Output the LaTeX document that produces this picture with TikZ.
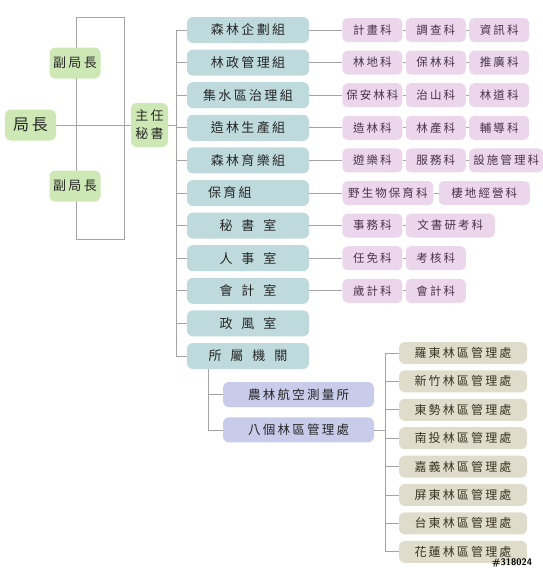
\documentclass[tikz,border=0pt]{standalone}
\usepackage{fontspec}
\newfontfamily\cjk[LetterSpace=18]{Noto Sans CJK TC}
\usepackage{xcolor}
\usetikzlibrary{positioning}
\definecolor{headgreen}{HTML}{CDE8B4}
\definecolor{unitteal}{HTML}{BFDADD}
\definecolor{sectpink}{HTML}{ECD6EC}
\definecolor{agencyblue}{HTML}{C9CBEA}
\definecolor{officetan}{HTML}{E0DCCB}
\definecolor{linegray}{HTML}{A4A4A4}
\definecolor{inkdark}{HTML}{262626}
\definecolor{inkplum}{HTML}{4A3348}
\definecolor{inkbrown}{HTML}{3A3322}

\begin{document}
\begin{tikzpicture}[x=1pt, y=-1pt,
  head/.style={rectangle, rounded corners=6pt, fill=headgreen,
               font=\cjk\fontsize{13}{18}\selectfont, text=inkdark,
               minimum width=51pt, minimum height=31pt,
               align=center, inner sep=2pt},
  unit/.style={rectangle, rounded corners=6pt, fill=unitteal,
               font=\cjk\fontsize{13}{15}\selectfont, text=inkdark,
               minimum width=122pt, minimum height=26pt, inner sep=2pt},
  sect/.style={rectangle, rounded corners=5pt, fill=sectpink,
               font=\cjk\fontsize{11.5}{13}\selectfont, text=inkplum,
               minimum width=60pt, minimum height=24pt, inner sep=1pt},
  agency/.style={rectangle, rounded corners=6pt, fill=agencyblue,
                 font=\cjk\fontsize{12.5}{14}\selectfont, text=inkdark,
                 minimum width=151pt, minimum height=25pt, inner sep=2pt},
  office/.style={rectangle, rounded corners=6pt, fill=officetan,
                 font=\cjk\fontsize{12}{14}\selectfont, text=inkbrown,
                 minimum width=128pt, minimum height=22pt, inner sep=1pt},
  conn/.style={draw=linegray, line width=0.8pt},
  node distance=6.2pt
]
\useasboundingbox (0,0) rectangle (543,568);

\coordinate (br1) at (76,17);
\coordinate (br2) at (124,239);
\draw[conn] (br1) rectangle (br2);

\node[head, font=\cjk\fontsize{16}{18}\selectfont] (chief) at (30.5,125) {局\hspace{3pt}長};
\node[head] (dep1) at (75,63) {副局長};
\node[head] (dep2) at (75,186) {副局長};
\node[head, minimum width=37pt, minimum height=44pt] (sec) at (149.5,125) {主任\\秘書};

\node[unit] (t1) at (248,30) {森林企劃組};
\node[unit, below=of t1]  (t2)  {林政管理組};
\node[unit, below=of t2]  (t3)  {集水區治理組};
\node[unit, below=of t3]  (t4)  {造林生產組};
\node[unit, below=of t4]  (t5)  {森林育樂組};
\node[unit, below=of t5, text width=80pt, inner xsep=21pt, align=left] (t6) {保育組};
\node[unit, below=of t6]  (t7)  {秘\hspace{9pt}書\hspace{9pt}室};
\node[unit, below=of t7]  (t8)  {人\hspace{9pt}事\hspace{9pt}室};
\node[unit, below=of t8]  (t9)  {會\hspace{9pt}計\hspace{9pt}室};
\node[unit, below=of t9]  (t10) {政\hspace{9pt}風\hspace{9pt}室};
\node[unit, below=of t10] (t11) {所\hspace{9pt}屬\hspace{9pt}機\hspace{9pt}關};

\node[sect, right=33pt of t1] (p11) {計畫科};
\node[sect, right=3pt of p11] (p12) {調查科};
\node[sect, right=3pt of p12] (p13) {資訊科};
\node[sect, right=33pt of t2] (p21) {林地科};
\node[sect, right=3pt of p21] (p22) {保林科};
\node[sect, right=3pt of p22] (p23) {推廣科};
\node[sect, right=33pt of t3] (p31) {保安林科};
\node[sect, right=3pt of p31] (p32) {治山科};
\node[sect, right=3pt of p32] (p33) {林道科};
\node[sect, right=33pt of t4] (p41) {造林科};
\node[sect, right=3pt of p41] (p42) {林產科};
\node[sect, right=3pt of p42] (p43) {輔導科};
\node[sect, right=33pt of t5] (p51) {遊樂科};
\node[sect, right=3pt of p51] (p52) {服務科};
\node[sect, right=3pt of p52, minimum width=74pt] (p53) {設施管理科};
\node[sect, right=33pt of t6, minimum width=91pt] (p61) {野生物保育科};
\node[sect, right=5pt of p61, minimum width=91pt] (p62) {棲地經營科};
\node[sect, right=33pt of t7] (p71) {事務科};
\node[sect, right=3pt of p71, minimum width=89pt] (p72) {文書研考科};
\node[sect, right=33pt of t8] (p81) {任免科};
\node[sect, right=3pt of p81] (p82) {考核科};
\node[sect, right=33pt of t9] (p91) {歲計科};
\node[sect, right=3pt of p91] (p92) {會計科};

\node[agency] (a1) at (298.5,394.5) {農林航空測量所};
\node[agency, below=10pt of a1] (a2) {八個林區管理處};

\node[office] (f1) at (463,353) {羅東林區管理處};
\node[office, below=6pt of f1] (f2) {新竹林區管理處};
\node[office, below=6pt of f2] (f3) {東勢林區管理處};
\node[office, below=6pt of f3] (f4) {南投林區管理處};
\node[office, below=6pt of f4] (f5) {嘉義林區管理處};
\node[office, below=6pt of f5] (f6) {屏東林區管理處};
\node[office, below=6pt of f6] (f7) {台東林區管理處};
\node[office, below=6pt of f7] (f8) {花蓮林區管理處};

\node[font=\sffamily\bfseries\fontsize{9.5}{10}\selectfont, inner sep=0pt] (mark) at (512,563.5) {\#318024};

\coordinate (trunk) at (176,0);
\coordinate (sub) at (208,0);
\coordinate (ftrunk) at (385,0);

\draw[conn] (chief.east) -- (sec.west);
\draw[conn] (sec.east) -- (sec.east -| trunk);
\draw[conn] (t1.west -| trunk) -- (t11.west -| trunk);
\draw[conn] (t1.west -| trunk) -- (t1.west);
\draw[conn] (t2.west -| trunk) -- (t2.west);
\draw[conn] (t3.west -| trunk) -- (t3.west);
\draw[conn] (t4.west -| trunk) -- (t4.west);
\draw[conn] (t5.west -| trunk) -- (t5.west);
\draw[conn] (t6.west -| trunk) -- (t6.west);
\draw[conn] (t7.west -| trunk) -- (t7.west);
\draw[conn] (t8.west -| trunk) -- (t8.west);
\draw[conn] (t9.west -| trunk) -- (t9.west);
\draw[conn] (t10.west -| trunk) -- (t10.west);
\draw[conn] (t11.west -| trunk) -- (t11.west);

\draw[conn] (t1) -- (p11);
\draw[conn] (p11) -- (p12);
\draw[conn] (p12) -- (p13);
\draw[conn] (t2) -- (p21);
\draw[conn] (p21) -- (p22);
\draw[conn] (p22) -- (p23);
\draw[conn] (t3) -- (p31);
\draw[conn] (p31) -- (p32);
\draw[conn] (p32) -- (p33);
\draw[conn] (t4) -- (p41);
\draw[conn] (p41) -- (p42);
\draw[conn] (p42) -- (p43);
\draw[conn] (t5) -- (p51);
\draw[conn] (p51) -- (p52);
\draw[conn] (p52) -- (p53);
\draw[conn] (t6) -- (p61);
\draw[conn] (p61) -- (p62);
\draw[conn] (t7) -- (p71);
\draw[conn] (p71) -- (p72);
\draw[conn] (t8) -- (p81);
\draw[conn] (p81) -- (p82);
\draw[conn] (t9) -- (p91);
\draw[conn] (p91) -- (p92);

\draw[conn] (t11.south -| sub) -- (a2.west -| sub);
\draw[conn] (a1.west -| sub) -- (a1.west);
\draw[conn] (a2.west -| sub) -- (a2.west);

\draw[conn] (a2.east) -- (a2.east -| ftrunk);
\draw[conn] (f1.west -| ftrunk) -- (f8.west -| ftrunk);
\draw[conn] (f1.west -| ftrunk) -- (f1.west);
\draw[conn] (f2.west -| ftrunk) -- (f2.west);
\draw[conn] (f3.west -| ftrunk) -- (f3.west);
\draw[conn] (f4.west -| ftrunk) -- (f4.west);
\draw[conn] (f5.west -| ftrunk) -- (f5.west);
\draw[conn] (f6.west -| ftrunk) -- (f6.west);
\draw[conn] (f7.west -| ftrunk) -- (f7.west);
\draw[conn] (f8.west -| ftrunk) -- (f8.west);
\end{tikzpicture}
\end{document}
